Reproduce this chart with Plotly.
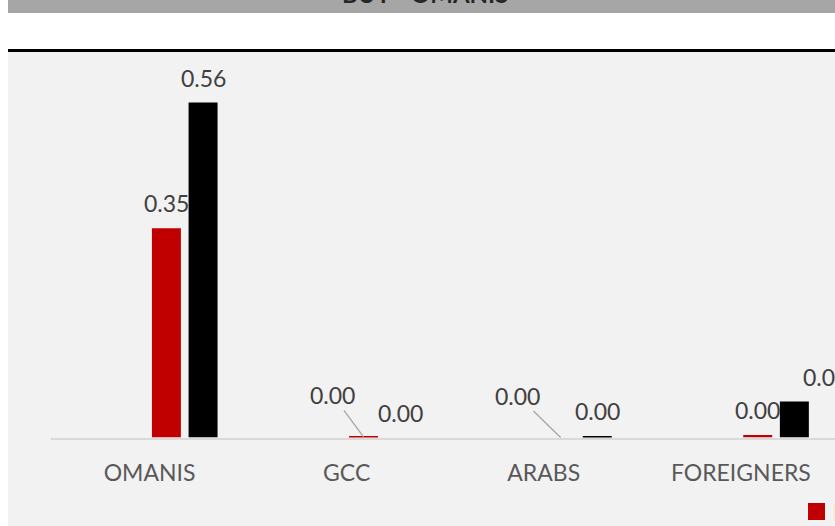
import plotly.graph_objects as go

# ---- data ----
categories = ["OMANIS", "GCC", "ARABS", "FOREIGNERS"]
series_names = ["Previous Period", "Current Period"]
red_values = [0.35, 0.001, 0.0, 0.004]
black_values = [0.56, 0.0, 0.002, 0.06]
title_text = "BUY - OMANIS"

# ---- style ----
W, H = 835, 526
RED = "#c00000"
BLACK = "#000000"
FONT = "Lato"
LABEL_COLOR = "#404040"
TICK_COLOR = "#595959"
bar_w = 0.147
off_red = 0.012
off_black = 0.198

x_left_px = 51
base_px = 437.5
top_px = 52
px_per_unit = 598.0
cat_px = 197.1

fig = go.Figure()
fig.add_trace(go.Bar(x=categories, y=red_values, name=series_names[0],
                     marker=dict(color=RED, line=dict(width=0)),
                     width=bar_w, offset=off_red, showlegend=False))
fig.add_trace(go.Bar(x=categories, y=black_values, name=series_names[1],
                     marker=dict(color=BLACK, line=dict(width=0)),
                     width=bar_w, offset=off_black, showlegend=False))

annotations = []
lab_font = dict(family=FONT, size=23, color=LABEL_COLOR)
# labels with special placement: (dx, dy) leader-line offsets in pixels
red_leader = {1: (-31, -42), 2: (-43, -42)}
black_shift = {3: 31}
for i, v in enumerate(red_values):
    xc = i + off_red + bar_w / 2
    if i in red_leader:
        ax, ay = red_leader[i]
        annotations.append(dict(x=xc, y=v, xref="x", yref="y", text=f"{v:.2f}",
                                showarrow=True, arrowhead=0, arrowwidth=1.3,
                                arrowcolor="#a6a6a6", ax=ax, ay=ay,
                                font=lab_font))
    else:
        annotations.append(dict(x=xc, y=v, xref="x", yref="y", text=f"{v:.2f}",
                                showarrow=False, yanchor="middle", yshift=25,
                                font=lab_font))
for i, v in enumerate(black_values):
    xc = i + off_black + bar_w / 2
    annotations.append(dict(x=xc, y=v, xref="x", yref="y", text=f"{v:.2f}",
                            showarrow=False, yanchor="middle", yshift=25,
                            xshift=black_shift.get(i, 0), font=lab_font))

# title (cut at top edge)
annotations.append(dict(x=425 / W, y=1 - 10.5 / H, xref="paper", yref="paper",
                        text=f"<b>{title_text}</b>", showarrow=False,
                        xanchor="center", yanchor="bottom",
                        font=dict(family=FONT, size=24, color="#262626")))
# legend text (cut at right edge)
annotations.append(dict(x=831 / W, y=1 - 511.5 / H, xref="paper", yref="paper",
                        text=series_names[0], showarrow=False,
                        xanchor="left", yanchor="middle",
                        font=dict(family=FONT, size=23, color=TICK_COLOR)))

shapes = [
    # gray title band
    dict(type="rect", xref="paper", yref="paper", x0=8 / W, x1=1,
         y0=1 - 13 / H, y1=1, fillcolor="#a6a6a6", line=dict(width=0), layer="below"),
    # plot background
    dict(type="rect", xref="paper", yref="paper", x0=8 / W, x1=1,
         y0=0, y1=1 - 52 / H, fillcolor="#f2f2f2", line=dict(width=0), layer="below"),
    # black rule
    dict(type="rect", xref="paper", yref="paper", x0=8 / W, x1=1,
         y0=1 - 52 / H, y1=1 - 49 / H, fillcolor="#000000", line=dict(width=0), layer="below"),
    # legend marker
    dict(type="rect", xref="paper", yref="paper", x0=808 / W, x1=825 / W,
         y0=1 - 520 / H, y1=1 - 503 / H, fillcolor=RED, line=dict(width=0), layer="above"),
]

x_end = (W - x_left_px) / cat_px - 0.5
fig.update_layout(
    width=W, height=H,
    margin=dict(l=0, r=0, t=0, b=0),
    paper_bgcolor="white", plot_bgcolor="rgba(0,0,0,0)",
    barmode="overlay",
    showlegend=False,
    xaxis=dict(domain=[x_left_px / W, 1], range=[-0.5, x_end], type="category",
               showline=True, linecolor="#d9d9d9", linewidth=1.5,
               showgrid=False, zeroline=False, ticks="", layer="below traces",
               tickfont=dict(family=FONT, size=23, color=TICK_COLOR),
               ticklabelstandoff=14),
    yaxis=dict(domain=[(H - base_px) / H, (H - top_px) / H],
               range=[0, (base_px - top_px) / px_per_unit],
               visible=False, showgrid=False, zeroline=False),
    annotations=annotations,
    shapes=shapes,
)

fig.write_html("out.html",
               config={"displayModeBar": False},
               post_script="document.body.style.margin='0';document.body.style.overflow='hidden';")
